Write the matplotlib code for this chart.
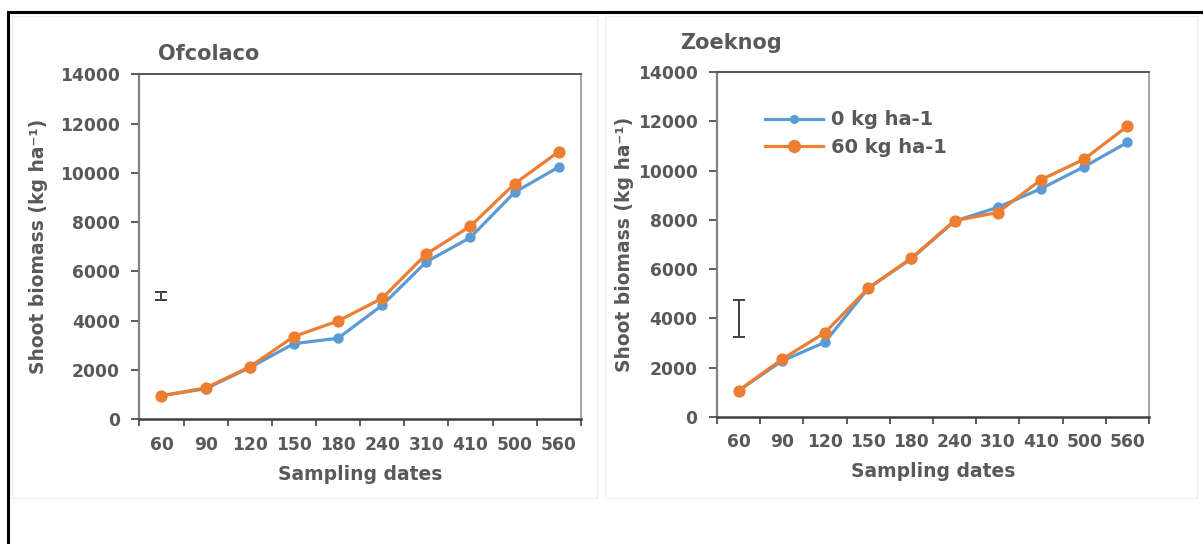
import matplotlib
matplotlib.use("Agg")
import matplotlib.pyplot as plt
from matplotlib.patches import Rectangle
from matplotlib.lines import Line2D

# sampling dates (days) used as category labels
dates = ["60", "90", "120", "150", "180", "240", "310", "410", "500", "560"]

# shoot biomass, kg/ha
ofcolaco_0n = [960, 1240, 2100, 3070, 3290, 4630, 6390, 7380, 9210, 10240]
ofcolaco_60n = [960, 1270, 2130, 3360, 3990, 4910, 6710, 7840, 9560, 10860]
zoeknog_0n = [1060, 2260, 3030, 5220, 6420, 7950, 8510, 9270, 10160, 11150]
zoeknog_60n = [1060, 2330, 3420, 5220, 6450, 7970, 8300, 9630, 10470, 11810]

# LSD bars (centre, half-length)
lsd_ofcolaco = (5010, 170)
lsd_zoeknog = (4000, 750)

legend_labels = ["0 kg ha-1", "60 kg ha-1"]

BLUE = "#5B9BD5"
ORANGE = "#ED7D31"
GREY = "#595959"

fig = plt.figure(figsize=(12.03, 5.44), dpi=100)

# outer frame (only left and top edges show) and faint panel boxes
fig.add_artist(Line2D([0.0064, 0.0064], [0.0, 0.978], color="black", lw=2.2,
                      transform=fig.transFigure))
fig.add_artist(Line2D([0.0064, 1.0], [0.978, 0.978], color="black", lw=2.2,
                      transform=fig.transFigure))
for x0, x1 in [(0.010, 0.496), (0.503, 0.995)]:
    fig.add_artist(Rectangle((x0, 0.085), x1 - x0, 0.885, fill=False,
                             ec="#f0f0f0", lw=1.0, transform=fig.transFigure))


def draw_panel(ax, title, s0, s60, lsd, title_x, title_y, ylab_x):
    x = list(range(len(dates)))
    ax.plot(x, s0, color=BLUE, lw=2.3, marker="o", ms=6.5, zorder=3)
    ax.plot(x, s60, color=ORANGE, lw=2.3, marker="o", ms=7.8, zorder=4)
    ax.errorbar([0], [lsd[0]], yerr=[lsd[1]], color="#404040", lw=1.4,
                capsize=4.3, capthick=1.4)

    ax.set_xlim(-0.5, len(dates) - 0.5)
    ax.set_ylim(0, 14000)
    ax.set_yticks(range(0, 14001, 2000))
    ax.set_xticks(x)
    ax.set_xticklabels(dates)
    ax.set_xticks([i - 0.5 for i in range(len(dates) + 1)], minor=True)
    ax.tick_params(axis="x", which="major", length=0, pad=12)
    ax.tick_params(axis="x", which="minor", length=5, width=1.2,
                   color="#404040", direction="out")
    ax.tick_params(axis="y", length=6, width=1.2, color="#404040",
                   direction="out", pad=8)
    for lab in ax.get_xticklabels() + ax.get_yticklabels():
        lab.set_fontsize(12.3)
        lab.set_fontweight("bold")
        lab.set_color(GREY)

    ax.spines["left"].set_color("#808080")
    ax.spines["left"].set_linewidth(1.6)
    ax.spines["bottom"].set_color("#404040")
    ax.spines["bottom"].set_linewidth(1.8)
    ax.spines["top"].set_color("#555555")
    ax.spines["top"].set_linewidth(1.4)
    ax.spines["right"].set_color("#a6a6a6")
    ax.spines["right"].set_linewidth(1.4)

    ax.set_xlabel("Sampling dates", fontsize=13.5, fontweight="bold",
                  color=GREY, labelpad=8)
    ax.set_ylabel("Shoot biomass (kg ha⁻¹)", fontsize=13.5, fontweight="bold",
                  color=GREY)
    ax.yaxis.set_label_coords(ylab_x, 0.5)
    ax.text(title_x, title_y, title, transform=ax.transAxes, fontsize=15,
            fontweight="bold", color=GREY, ha="left", va="bottom")


ax1 = fig.add_axes([0.1159, 0.2292, 0.3669, 0.6342])
ax2 = fig.add_axes([0.5960, 0.2340, 0.3591, 0.6331])

draw_panel(ax1, "Ofcolaco", ofcolaco_0n, ofcolaco_60n, lsd_ofcolaco,
           0.043, 1.03, -0.208)
draw_panel(ax2, "Zoeknog", zoeknog_0n, zoeknog_60n, lsd_zoeknog,
           -0.085, 1.055, -0.193)

handles = [Line2D([], [], color=BLUE, lw=2.3, marker="o", ms=5.5),
           Line2D([], [], color=ORANGE, lw=2.3, marker="o", ms=8.5)]
leg = ax2.legend(handles, legend_labels, loc="upper left",
                 bbox_to_anchor=(0.07, 0.94), frameon=False,
                 handlelength=3.0, handletextpad=0.4, labelspacing=0.45,
                 prop={"size": 14, "weight": "bold"})
for t in leg.get_texts():
    t.set_color(GREY)

fig.savefig("out.png", dpi=100, facecolor="white")
